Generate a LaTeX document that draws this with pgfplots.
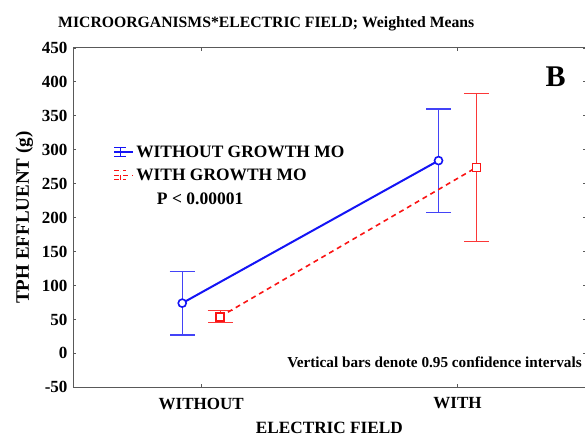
\documentclass[border=0pt]{standalone}
\usepackage{pgfplots}
\pgfplotsset{compat=1.18}
\usepackage{fontspec}
\setmainfont{Liberation Serif}
\definecolor{myblue}{RGB}{20,20,245}
\definecolor{myred}{RGB}{250,20,20}
\begin{document}
\begin{tikzpicture}[x=1pt,y=1pt]
\begin{axis}[
  scale only axis,
  width=512pt, height=339pt,
  xmin=-0.5, xmax=1.5,
  ymin=-50, ymax=450,
  ytick={-50,0,...,450},
  xtick={0,1},
  xticklabels={WITHOUT,WITH},
  tick align=inside,
  major tick length=3pt,
  axis line style={gray!70!black, line width=0.9pt},
  tick style={gray!70!black, line width=0.8pt},
  /pgf/number format/assume math mode=true,
  tick label style={font=\bfseries\fontsize{17}{19}\selectfont},
  yticklabel style={xshift=-2pt},
  xticklabel style={yshift=-7pt},
  ylabel={TPH EFFLUENT (g)},
  ylabel style={font=\bfseries\fontsize{19}{21}\selectfont, yshift=2pt},
  xlabel={ELECTRIC FIELD},
  xlabel style={font=\bfseries\fontsize{17.2}{19}\selectfont, yshift=-6pt},
  clip=false,
  legend style={at={(0.078,0.718)}, anchor=north west, draw=none, fill=none,
    font=\bfseries\fontsize{17.4}{19}\selectfont, row sep=6pt, inner sep=0pt,
    legend cell align=left},
]
% error bars (drawn first, behind markers)
\addplot[draw=none, mark=none, forget plot,
  error bars/.cd, y dir=both, y explicit,
  error bar style={line width=1.1pt, myblue!80!white},
  error mark=|, error mark options={mark size=12.5pt, line width=1.1pt, myblue!80!white}]
  coordinates {(-0.074,74) +- (0,47) (0.926,284) +- (0,76)};
\addplot[draw=none, mark=none, forget plot,
  error bars/.cd, y dir=both, y explicit,
  error bar style={solid, line width=1.1pt, myred!85!white},
  error mark=|, error mark options={solid, mark size=12.5pt, line width=1.1pt, myred!85!white}]
  coordinates {(0.074,54) +- (0,9) (1.074,274) +- (0,109)};
% means
\addplot[myblue, line width=2pt, mark=*, mark size=4pt,
  mark options={solid, fill=white, draw=myblue, line width=1.6pt},
  legend image code/.code={
    \path (0pt,0pt) -- (19pt,0pt);
    \draw[myblue, line width=1pt] (6pt,-4.5pt) -- (6pt,4.5pt);
    \draw[myblue, line width=1pt] (0pt,-4.5pt) -- (12pt,-4.5pt) (0pt,4.5pt) -- (12pt,4.5pt);
    \draw[myblue, line width=1.3pt] (0pt,0pt) -- (12pt,0pt);
  }]
  coordinates {(-0.074,74) (0.926,284)};
\addlegendentry{WITHOUT GROWTH MO}
\addplot[myred, line width=1.6pt, dash pattern=on 5pt off 4pt, mark=square*, mark size=4pt,
  mark options={solid, fill=white, draw=myred, line width=1.6pt},
  legend image code/.code={
    \path (0pt,0pt) -- (19pt,0pt);
    \draw[myred, line width=1pt] (6pt,-4.5pt) -- (6pt,4.5pt);
    \draw[myred, line width=1pt] (0pt,-4.5pt) -- (12pt,-4.5pt) (0pt,4.5pt) -- (12pt,4.5pt);
    \draw[myred, line width=1.3pt] (0pt,0pt) -- (3pt,0pt) (9pt,0pt) -- (12pt,0pt);
  }]
  coordinates {(0.074,54) (1.074,274)};
\addlegendentry{WITH GROWTH MO}
\node[font=\bfseries\fontsize{17.5}{19}\selectfont] at (axis cs:-0.004,228) {P < 0.00001};
\node[font=\bfseries\fontsize{30}{32}\selectfont] at (axis cs:1.383,407) {B};
\node[font=\bfseries\fontsize{15.2}{17}\selectfont, anchor=west] at (axis cs:0.322,-13.3) {Vertical bars denote 0.95 confidence intervals};
\node[font=\bfseries\fontsize{15.7}{17}\selectfont] at (axis cs:0.254,486) {MICROORGANISMS*ELECTRIC FIELD; Weighted Means};
\coordinate (BBsw) at (axis cs:-0.785,-123.9);
\coordinate (BBne) at (axis cs:1.4975,520.6);
\end{axis}
\pgfresetboundingbox
\path[use as bounding box] (BBsw) rectangle (BBne);
\end{tikzpicture}
\end{document}
